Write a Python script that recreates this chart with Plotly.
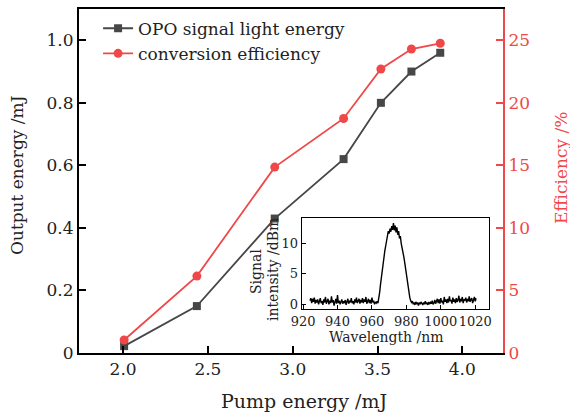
import plotly.graph_objects as go

pump = [2.006, 2.435, 2.894, 3.30, 3.52, 3.70, 3.87]
signal_energy = [0.022, 0.15, 0.43, 0.62, 0.80, 0.90, 0.96]
efficiency = [1.04, 6.15, 14.86, 18.75, 22.7, 24.3, 24.76]

spec_start = 924.0
spec_step = 0.5
spec_intensity = [
    0.6, 1.0, 0.2, 0.9, 0.4, 1.1, 0.1, 0.7, 0.3, 0.8,
    0.0, 0.6, 1.0, 0.2, 0.5, -0.1, 0.8, 0.3, 1.2, 0.1,
    0.4, 0.9, 0.0, 0.6, 0.2, 1.3, 0.3, 0.7, -0.2, 0.5,
    0.9, 0.1, 1.5, 0.2, 0.6, 0.0, 0.4, 0.8, 0.1, 0.5,
    0.2, 0.7, -0.1, 0.4, 0.9, 0.1, 0.6, 0.3, 1.0, 0.2,
    0.5, 0.0, 0.8, 0.3, 1.1, 0.2, 0.6, 0.9, 0.1, 0.7,
    0.3, 1.0, 0.2, 0.8, 0.4, 1.2, 0.1, 0.6, 0.9, 0.2,
    0.7, 0.1, 1.1, 0.3, 0.6, 0.0, 0.4, 0.2, 0.5, 0.2,
    0.9, 2.0, 3.3, 4.6, 5.8, 6.9, 7.8, 8.8, 9.6, 10.4,
    11.0, 12.0, 11.6, 12.4, 11.9, 12.8, 12.2, 13.3, 12.1, 12.9,
    11.8, 12.6, 11.4, 12.0, 10.8, 11.2, 10.0, 9.4, 8.6, 7.8,
    6.9, 5.8, 4.8, 3.9, 2.7, 1.9, 1.1, 0.6, 0.3, 0.5,
    0.0, 0.3, -0.1, 0.4, 0.1, 0.2, -0.2, 0.3, 0.0, 0.4,
    0.1, -0.1, 0.3, 0.0, 0.5, 0.1, 0.2, -0.1, 0.4, 0.0,
    0.3, 0.1, 0.6, 0.0, 0.2, 0.7, 0.1, 0.4, 0.9, 0.2,
    0.8, 0.1, 1.0, 0.3, 0.6, 0.0, 1.2, 0.4, 0.8, 0.2,
    0.9, 0.3, 1.3, 0.5, 0.7, 0.1, 1.1, 0.4, 0.8, 0.2,
    1.0, 0.4, 0.7, 1.4, 0.3, 0.9, 0.5, 1.2, 0.2, 0.8,
    0.6, 1.1, 0.3, 0.9, 0.5, 1.3, 0.4, 0.8, 1.0, 0.2,
    0.9, 1.2, 0.5, 1.0,
]
spec_wavelength = [spec_start + spec_step * i for i in range(len(spec_intensity))]

left_ticks = [0, 0.2, 0.4, 0.6, 0.8, 1.0]
left_labels = ["0", "0.2", "0.4", "0.6", "0.8", "1.0"]
right_ticks = [0, 5, 10, 15, 20, 25]
x_ticks = [2.0, 2.5, 3.0, 3.5, 4.0]
inset_x_ticks = [920, 940, 960, 980, 1000, 1020]
inset_y_ticks = [0, 5, 10]

BLACK = "#474747"
RED = "#f04848"
FONT = "DejaVu Serif"
W, H = 570, 415
L, R, T, B = 79, 67, 9, 62
pw, ph = W - L - R, H - T - B


def to_paper(px, py):
    return (px - L) / pw, (H - B - py) / ph


def paper_ann(text, px, py, size, color="#222", angle=0):
    xp, yp = to_paper(px, py)
    return dict(text=text, x=xp, y=yp, xref="paper", yref="paper",
                xanchor="center", yanchor="middle", showarrow=False, textangle=angle,
                font=dict(family=FONT, size=size, color=color))


fig = go.Figure()
fig.add_trace(go.Scatter(
    x=pump, y=signal_energy, mode="lines+markers", name="OPO signal light energy",
    line=dict(color=BLACK, width=1.8), marker=dict(symbol="square", size=8, color=BLACK),
    xaxis="x", yaxis="y"))
fig.add_trace(go.Scatter(
    x=pump, y=efficiency, mode="lines+markers", name="conversion efficiency",
    line=dict(color=RED, width=1.8), marker=dict(symbol="circle", size=9, color=RED),
    xaxis="x", yaxis="y3"))
fig.add_trace(go.Scatter(
    x=spec_wavelength, y=spec_intensity, mode="lines", showlegend=False,
    line=dict(color="black", width=1.4), xaxis="x2", yaxis="y2"))

fig.update_layout(
    width=W, height=H,
    margin=dict(l=L, r=R, t=T, b=B, autoexpand=False),
    paper_bgcolor="white", plot_bgcolor="white",
    font=dict(family=FONT, size=17, color="#222"),
    showlegend=True,
    legend=dict(x=0.045, y=0.995, xanchor="left", yanchor="top",
                bgcolor="rgba(0,0,0,0)", font=dict(size=17, family=FONT),
                tracegroupgap=0, itemwidth=30),
    xaxis=dict(domain=[0, 1], range=[1.74, 4.24], tickvals=x_ticks,
               ticktext=[f"{v:.1f}" for v in x_ticks], automargin=False,
               ticks="inside", ticklen=7, tickcolor="black", tickwidth=1.5,
               showline=True, linecolor="black", linewidth=2, mirror=True,
               showgrid=False, zeroline=False),
    yaxis=dict(domain=[0, 1], range=[0, 1.1], tickvals=left_ticks, ticktext=left_labels,
               ticks="inside", ticklen=7, tickcolor="black", tickwidth=1.5, automargin=False,
               showline=True, linecolor="black", linewidth=2,
               showgrid=False, zeroline=False),
    yaxis3=dict(overlaying="y", side="right", anchor="x", range=[0, 27.5], automargin=False,
                tickvals=right_ticks, ticks="inside", ticklen=7, tickcolor=RED, tickwidth=1.5,
                showline=True, linecolor=RED, linewidth=2,
                tickfont=dict(color=RED, size=17), showgrid=False, zeroline=False),
    xaxis2=dict(domain=[to_paper(301.7, 0)[0], to_paper(489, 0)[0]], anchor="y2",
                range=[919.2, 1028], automargin=False,
                tickvals=inset_x_ticks, tickangle=0, ticks="inside", ticklen=4, tickcolor="black",
                showline=True, linecolor="black", linewidth=1.2, mirror=True,
                showgrid=False, zeroline=False, tickfont=dict(size=13)),
    yaxis2=dict(domain=[to_paper(0, 309.3)[1], to_paper(0, 218.3)[1]], anchor="x2",
                range=[-0.82, 14.1], automargin=False,
                tickvals=inset_y_ticks, ticks="inside", ticklen=4, tickcolor="black",
                showline=True, linecolor="black", linewidth=1.2, mirror=True,
                showgrid=False, zeroline=False, tickfont=dict(size=13)),
    annotations=[
        paper_ann("Pump energy /mJ", 304, 401, 19),
        paper_ann("Output energy /mJ", 17, 175, 17, angle=-90),
        paper_ann("Efficiency /%", 561, 168, 17, color=RED, angle=-90),
        paper_ann("Wavelength /nm", 386, 337, 14),
        paper_ann("Signal", 256, 272, 14, angle=-90),
        paper_ann("intensity /dBm", 273, 270, 14, angle=-90),
    ],
)

fig.write_html("out.html")
